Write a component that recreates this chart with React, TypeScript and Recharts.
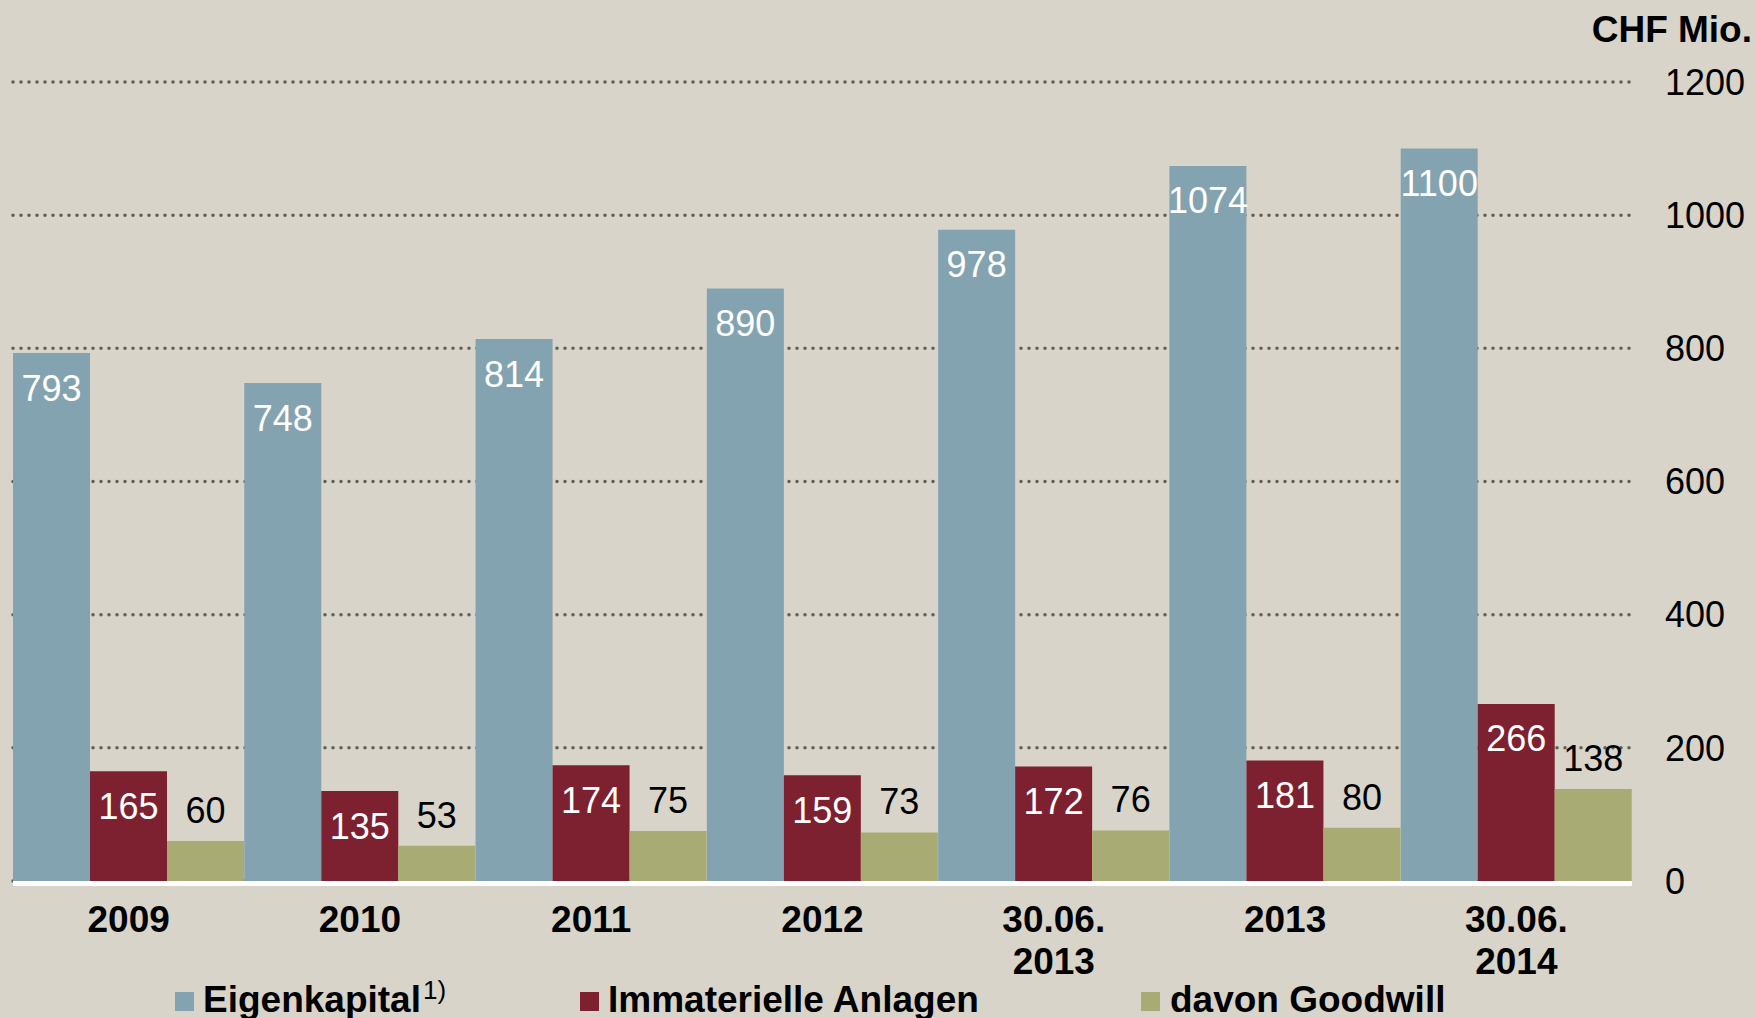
import React from 'react';
import { BarChart, Bar, XAxis, YAxis, CartesianGrid, LabelList, ReferenceLine } from 'recharts';

const categories = ['2009', '2010', '2011', '2012', '30.06.\n2013', '2013', '30.06.\n2014'];
const eigenkapital = [793, 748, 814, 890, 978, 1074, 1100];
const immaterielle = [165, 135, 174, 159, 172, 181, 266];
const goodwill = [60, 53, 75, 73, 76, 80, 138];
const yTicks = [0, 200, 400, 600, 800, 1000, 1200];

const FONT = '"Liberation Sans", Arial, Helvetica, sans-serif';
const BG = '#d8d4c9';
const BLUE = '#83a3b0';
const RED = '#7d2131';
const GREEN = '#a8ac74';

const chartData = categories.map((name, i) => ({
  name,
  eigen: eigenkapital[i],
  immat: immaterielle[i],
  goodwill: goodwill[i],
}));

// two-line category labels (e.g. "30.06." / "2013")
const CategoryTick = (props: any) => {
  const { x, y, payload } = props;
  const lines = String(payload.value).split('\n');
  return (
    <text x={x} y={y} textAnchor="middle" fontFamily={FONT} fontWeight="bold" fontSize={37} fill="#000">
      {lines.map((line, i) => (
        <tspan key={i} x={x} dy={i === 0 ? 51 : 42}>
          {line}
        </tspan>
      ))}
    </text>
  );
};

// white base line sits just under the bars
const BaseLine = (props: any) => {
  const { x1, x2, y1 } = props;
  return <line x1={x1} x2={x2} y1={y1 + 2.5} y2={y1 + 2.5} stroke="#ffffff" strokeWidth={5} />;
};

const legendItems = [
  { label: 'Eigenkapital', color: BLUE, box: 175, text: 203 },
  { label: 'Immaterielle Anlagen', color: RED, box: 580, text: 608 },
  { label: 'davon Goodwill', color: GREEN, box: 1141, text: 1170 },
];

const App: React.FC = () => {
  return (
    <div
      style={{
        position: 'absolute',
        left: 0,
        top: 0,
        width: 1756,
        height: 1018,
        background: BG,
        overflow: 'hidden',
        fontFamily: FONT,
      }}
    >
      <div
        style={{
          position: 'absolute',
          right: 4,
          top: 11,
          fontSize: 37,
          lineHeight: '37px',
          fontWeight: 'bold',
          color: '#000',
        }}
      >
        CHF Mio.
      </div>

      <BarChart
        width={1756}
        height={1018}
        data={chartData}
        margin={{ top: 82, right: 0, left: 13, bottom: 0 }}
        barCategoryGap={0}
        barGap={0}
      >
        <CartesianGrid
          vertical={false}
          stroke="#5f5f55"
          strokeWidth={3.5}
          strokeDasharray="0 8"
          strokeLinecap="round"
        />
        <XAxis
          dataKey="name"
          height={137}
          axisLine={false}
          tickLine={false}
          tickSize={0}
          tickMargin={0}
          interval={0}
          tick={<CategoryTick />}
        />
        <YAxis
          orientation="right"
          width={124}
          domain={[0, 1200]}
          ticks={yTicks}
          axisLine={false}
          tickLine={false}
          tickSize={0}
          tickMargin={33}
          tick={{ fontSize: 36, fill: '#000', fontFamily: FONT }}
        />
        <Bar dataKey="eigen" fill={BLUE} isAnimationActive={false}>
          <LabelList dataKey="eigen" position="insideTop" offset={22} fill="#fff" fontSize={36} fontFamily={FONT} />
        </Bar>
        <Bar dataKey="immat" fill={RED} isAnimationActive={false}>
          <LabelList dataKey="immat" position="insideTop" offset={22} fill="#fff" fontSize={36} fontFamily={FONT} />
        </Bar>
        <Bar dataKey="goodwill" fill={GREEN} isAnimationActive={false}>
          <LabelList dataKey="goodwill" position="top" offset={18} fill="#000" fontSize={36} fontFamily={FONT} />
        </Bar>
        <ReferenceLine y={0} shape={<BaseLine />} />
      </BarChart>

      {legendItems.map((item) => (
        <React.Fragment key={item.label}>
          <div
            style={{
              position: 'absolute',
              left: item.box,
              top: 992,
              width: 19,
              height: 19,
              background: item.color,
            }}
          />
          <div
            style={{
              position: 'absolute',
              left: item.text,
              top: 981,
              fontSize: 37,
              lineHeight: '37px',
              fontWeight: 'bold',
              color: '#000',
              whiteSpace: 'nowrap',
            }}
          >
            {item.label}
          </div>
        </React.Fragment>
      ))}
      <div
        style={{
          position: 'absolute',
          left: 423,
          top: 977,
          fontSize: 26,
          lineHeight: '26px',
          color: '#000',
        }}
      >
        1)
      </div>
    </div>
  );
};

export default App;
